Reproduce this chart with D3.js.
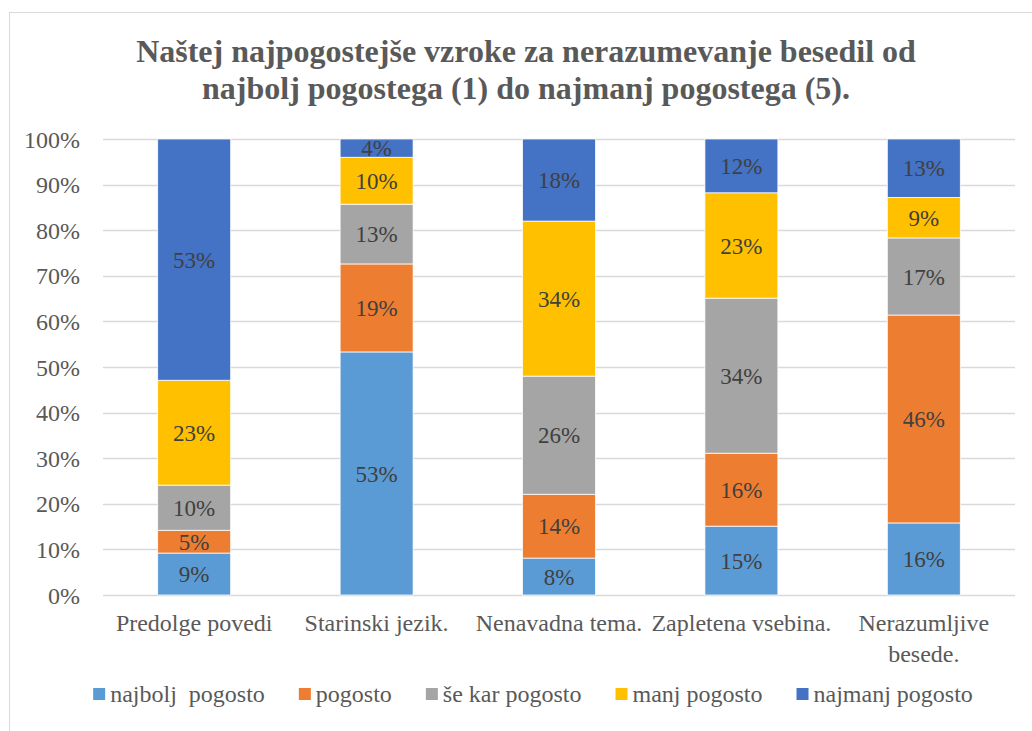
<!DOCTYPE html>
<html>
<head>
<meta charset="utf-8">
<script src="https://cdn.jsdelivr.net/npm/d3@7"></script>
<style>
  html, body { margin: 0; padding: 0; background: #fff; }
  svg { display: block; }
</style>
</head>
<body>
<svg id="chart" width="1032" height="731"></svg>
<script>
// ---- data ----
const titleLines = [
  "Naštej najpogostejše vzroke za nerazumevanje besedil od",
  "najbolj pogostega (1) do najmanj pogostega (5)."
];
const categories = ["Predolge povedi", "Starinski jezik.", "Nenavadna tema.", "Zapletena vsebina.", "Nerazumljive besede."];
const categoryLines = [["Predolge povedi"], ["Starinski jezik."], ["Nenavadna tema."], ["Zapletena vsebina."], ["Nerazumljive", "besede."]];
const seriesNames = ["najbolj  pogosto", "pogosto", "še kar pogosto", "manj pogosto", "najmanj pogosto"];
const seriesColors = ["#5B9BD5", "#ED7D31", "#A5A5A5", "#FFC000", "#4472C4"];
// values in percent (series x category)
const najboljPogosto = [9.2, 53.3, 8.1, 15.1, 15.8];
const pogosto        = [5.0, 19.3, 14.0, 16.0, 45.6];
const seKarPogosto   = [9.9, 13.1, 25.9, 34.0, 16.9];
const manjPogosto    = [23.0, 10.3, 34.0, 23.1, 8.9];
const najmanjPogosto = [52.9, 4.0, 18.0, 11.8, 12.8];
const yTicks = [0, 10, 20, 30, 40, 50, 60, 70, 80, 90, 100];

const seriesValues = [najboljPogosto, pogosto, seKarPogosto, manjPogosto, najmanjPogosto];

// ---- layout ----
const FONT = '"Liberation Serif", "Times New Roman", Tinos, serif';
const svg = d3.select("#chart");
const plotLeft = 103, plotRight = 1015, plotTop = 139, plotBottom = 595;

// border
svg.append("rect")
  .attr("x", 9.5).attr("y", 12.5)
  .attr("width", 1040).attr("height", 740)
  .attr("fill", "#fff").attr("stroke", "#d9d9d9").attr("stroke-width", 1);

// title
svg.append("g").selectAll("text").data(titleLines).join("text")
  .attr("x", 526).attr("y", (d, i) => 62 + i * 37)
  .attr("text-anchor", "middle")
  .attr("font-size", 32).attr("font-weight", "bold")
  .attr("fill", "#595959")
  .text(d => d);

const x = d3.scaleBand().domain(categories).range([plotLeft, plotRight])
  .paddingInner(0.6).paddingOuter(0.3);
const y = d3.scaleLinear().domain([0, 100]).range([plotBottom, plotTop]);

// gridlines
svg.append("g").selectAll("line").data(yTicks).join("line")
  .attr("x1", plotLeft).attr("x2", plotRight)
  .attr("y1", d => Math.round(y(d)) + 0.5).attr("y2", d => Math.round(y(d)) + 0.5)
  .attr("stroke", "#d9d9d9").attr("stroke-width", 1.3);

// y axis labels
const yAxis = d3.axisLeft(y).tickValues(yTicks).tickFormat(d => d + "%").tickSize(0).tickPadding(0);
const yg = svg.append("g").attr("transform", `translate(80,0)`).call(yAxis);
yg.select(".domain").remove();
yg.attr("font-family", null).attr("font-size", null);
yg.selectAll("text")
  .attr("font-size", 24).attr("fill", "#595959").attr("dy", "0.34em");

// stacked data
const rows = categories.map((c, i) => {
  const r = { cat: c };
  seriesNames.forEach((s, j) => r[s] = seriesValues[j][i]);
  return r;
});
const stack = d3.stack().keys(seriesNames)(rows);

const layers = svg.append("g").selectAll("g").data(stack).join("g")
  .attr("fill", (d, i) => seriesColors[i]);
layers.selectAll("rect").data(d => d).join("rect")
  .attr("x", d => x(d.data.cat))
  .attr("width", x.bandwidth())
  .attr("y", d => y(d[1]))
  .attr("height", d => y(d[0]) - y(d[1]))
  .attr("stroke", "#fff").attr("stroke-width", 0.75);

// bar labels
layers.selectAll("text").data(d => d.map(p => ({ p, key: d.key }))).join("text")
  .attr("x", d => x(d.p.data.cat) + x.bandwidth() / 2)
  .attr("y", d => y((d.p[0] + d.p[1]) / 2))
  .attr("dy", "0.35em")
  .attr("text-anchor", "middle")
  .attr("font-size", 23).attr("fill", "#404040")
  .text(d => Math.round(d.p[1] - d.p[0]) + "%");

// x axis labels
const xg = svg.append("g");
categories.forEach((c, i) => {
  const t = xg.append("text")
    .attr("x", x(c) + x.bandwidth() / 2).attr("y", 631)
    .attr("text-anchor", "middle")
    .attr("font-size", 24).attr("fill", "#595959");
  categoryLines[i].forEach((ln, k) => {
    t.append("tspan").attr("x", x(c) + x.bandwidth() / 2).attr("dy", k === 0 ? 0 : 31).text(ln);
  });
});

// legend
const legend = svg.append("g");
const items = legend.selectAll("g").data(seriesNames).join("g");
items.append("rect").attr("width", 12).attr("height", 12).attr("y", 688)
  .attr("fill", (d, i) => seriesColors[i]);
items.append("text").attr("x", 17).attr("y", 702)
  .attr("font-size", 24).attr("fill", "#595959")
  .attr("xml:space", "preserve").style("white-space", "pre")
  .text(d => d);

// apply font everywhere
svg.selectAll("text").style("font-family", FONT);

let widths = [];
items.each(function () { widths.push(17 + d3.select(this).select("text").node().getComputedTextLength()); });
const gap = 34;
const total = d3.sum(widths) + gap * (widths.length - 1);
let cx = 533 - total / 2;
items.each(function (d, i) {
  d3.select(this).attr("transform", `translate(${cx},0)`);
  cx += widths[i] + gap;
});
</script>
</body>
</html>
